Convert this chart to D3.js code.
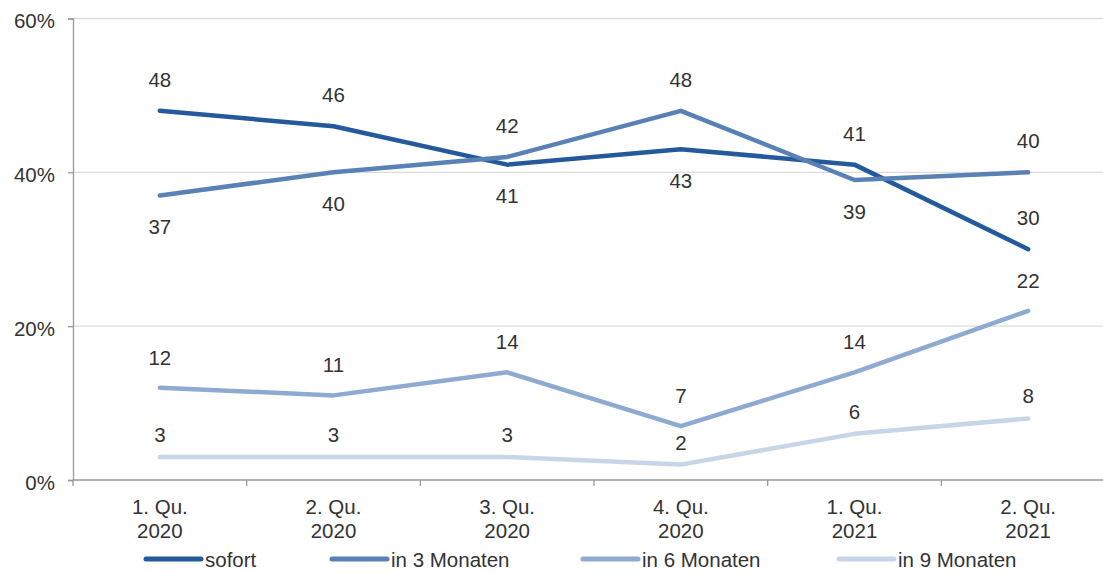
<!DOCTYPE html>
<html>
<head>
<meta charset="utf-8">
<script src="https://cdn.jsdelivr.net/npm/d3@7"></script>
<style>
  html, body { margin: 0; padding: 0; background: #fff; }
  svg { display: block; font-family: "Liberation Sans", Arial, sans-serif; }
</style>
</head>
<body>
<svg id="chart" width="1103" height="573"></svg>
<script>
// Quarters shown on the x axis (two text lines each)
const categories = ["1. Qu.|2020", "2. Qu.|2020", "3. Qu.|2020", "4. Qu.|2020", "1. Qu.|2021", "2. Qu.|2021"];

// Share of respondents (%) per planning horizon
const sofort     = [48, 46, 41, 43, 41, 30];
const in3Monaten = [37, 40, 42, 48, 39, 40];
const in6Monaten = [12, 11, 14, 7, 14, 22];
const in9Monaten = [3, 3, 3, 2, 6, 8];

const yTicks = [0, 20, 40, 60];

// Label placement per point: above (-1) or below (+1)
const sofortPos = [-1, -1, 1, 1, -1, -1];
const in3Pos    = [1, 1, -1, -1, 1, -1];
const in6Pos    = [-1, -1, -1, -1, -1, -1];
const in9Pos    = [-1, -1, -1, -1, -1, -1];

const series = [
  { name: "sofort",       values: sofort,     pos: sofortPos, color: "#245a9c", above: 24 },
  { name: "in 3 Monaten", values: in3Monaten, pos: in3Pos,    color: "#5a81b6", above: 24 },
  { name: "in 6 Monaten", values: in6Monaten, pos: in6Pos,    color: "#8eaad0", above: 23 },
  { name: "in 9 Monaten", values: in9Monaten, pos: in9Pos,    color: "#c7d5e7", above: 15 }
];

const fontSize = "20.5px";
const textColor = "#333";

const svg = d3.select("#chart");
const plotLeft = 73, plotRight = 1115, plotTop = 18.5, plotBottom = 480;

const x = d3.scaleBand().domain(categories).range([plotLeft, plotRight]);
const y = d3.scaleLinear().domain([0, 60]).range([plotBottom, plotTop]);

// Gridlines
svg.append("g")
  .selectAll("line")
  .data(yTicks.filter(d => d > 0))
  .join("line")
  .attr("x1", plotLeft).attr("x2", 1103)
  .attr("y1", d => y(d)).attr("y2", d => y(d))
  .attr("stroke", "#dcdcdc").attr("stroke-width", 1.3);

// Y axis
const yAxis = svg.append("g")
  .attr("transform", `translate(${plotLeft},0)`)
  .call(d3.axisLeft(y).tickValues(yTicks).tickFormat(d => d + "%").tickSize(5).tickPadding(13));
yAxis.select(".domain").attr("stroke", "#999").attr("stroke-width", 1.3);
yAxis.selectAll(".tick line").attr("stroke", "#999").attr("stroke-width", 1.3);
yAxis.selectAll("text")
  .attr("fill", textColor)
  .attr("dy", "0.45em")
  .style("font-size", fontSize)
  .style("font-family", "Liberation Sans, Arial, sans-serif");

// X axis (ticks at category boundaries)
const xAxisG = svg.append("g").attr("transform", `translate(0,${plotBottom})`);
xAxisG.append("line").attr("x1", plotLeft).attr("x2", 1103).attr("y1", 0).attr("y2", 0)
  .attr("stroke", "#999").attr("stroke-width", 1.3);
xAxisG.selectAll("line.tk")
  .data(categories)
  .join("line").attr("class", "tk")
  .attr("x1", d => x(d)).attr("x2", d => x(d))
  .attr("y1", 0).attr("y2", 6)
  .attr("stroke", "#999").attr("stroke-width", 1.3);
const xl = xAxisG.selectAll("text.cat")
  .data(categories)
  .join("text").attr("class", "cat")
  .attr("text-anchor", "middle")
  .attr("fill", textColor)
  .style("font-size", fontSize);
xl.each(function(d) {
  const parts = d.split("|");
  const t = d3.select(this);
  parts.forEach((p, i) => {
    t.append("tspan")
      .attr("x", x(d) + x.bandwidth() / 2)
      .attr("y", 34 + i * 24)
      .text(p);
  });
});

// Lines
const line = d3.line()
  .x((d, i) => x(categories[i]) + x.bandwidth() / 2)
  .y(d => y(d));

series.forEach(s => {
  svg.append("path")
    .datum(s.values)
    .attr("fill", "none")
    .attr("stroke", s.color)
    .attr("stroke-width", 4.5)
    .attr("stroke-linecap", "round")
    .attr("stroke-linejoin", "round")
    .attr("d", line);
});

// Data labels
series.forEach(s => {
  svg.append("g")
    .selectAll("text")
    .data(s.values)
    .join("text")
    .attr("x", (d, i) => x(categories[i]) + x.bandwidth() / 2)
    .attr("y", (d, i) => y(d) + (s.pos[i] < 0 ? -s.above : 38.5))
    .attr("text-anchor", "middle")
    .attr("fill", textColor)
    .style("font-size", fontSize)
    .text(d => d);
});

// Legend
const legendX = [146, 332, 583, 839];
const legend = svg.append("g").attr("transform", "translate(0,559)");
series.forEach((s, i) => {
  legend.append("line")
    .attr("x1", legendX[i]).attr("x2", legendX[i] + 55)
    .attr("y1", 0).attr("y2", 0)
    .attr("stroke", s.color).attr("stroke-width", 5)
    .attr("stroke-linecap", "round");
  legend.append("text")
    .attr("x", legendX[i] + 59).attr("y", 8)
    .attr("fill", textColor)
    .style("font-size", fontSize)
    .text(s.name);
});
</script>
</body>
</html>
